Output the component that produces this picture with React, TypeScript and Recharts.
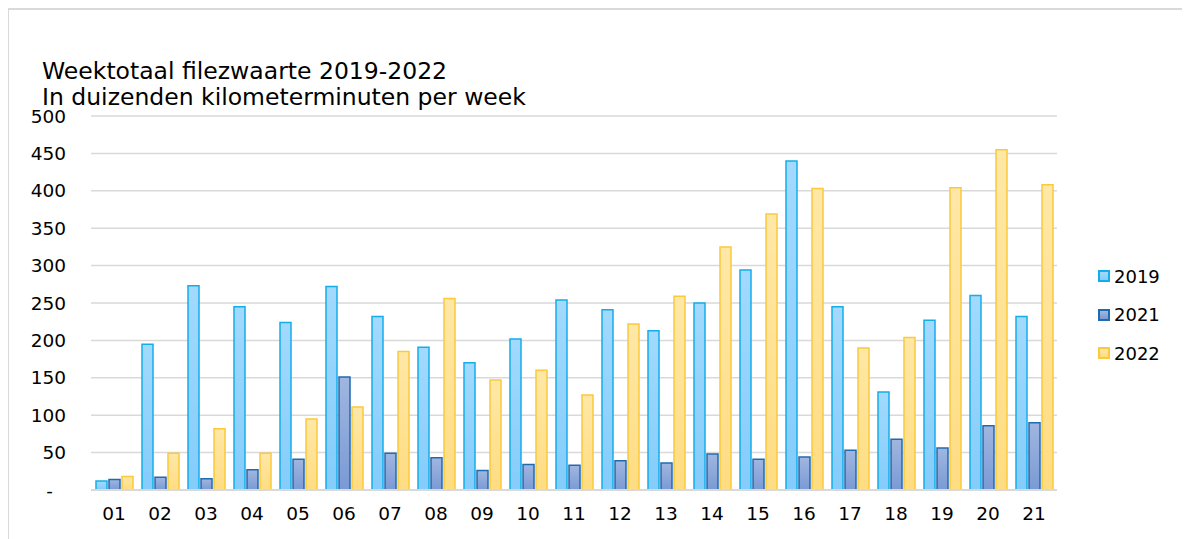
import React from 'react';
import { BarChart, Bar, XAxis, YAxis, CartesianGrid } from 'recharts';

const weeks = ['01', '02', '03', '04', '05', '06', '07', '08', '09', '10', '11', '12', '13', '14', '15', '16', '17', '18', '19', '20', '21'];
const values2019 = [12, 195, 273, 245, 224, 272, 232, 191, 170, 202, 254, 241, 213, 250, 294, 440, 245, 131, 227, 260, 232];
const values2021 = [14, 17, 15, 27, 41, 151, 49, 43, 26, 34, 33, 39, 36, 48, 41, 44, 53, 68, 56, 86, 90];
const values2022 = [18, 49, 82, 49, 95, 111, 185, 256, 147, 160, 127, 222, 259, 325, 369, 403, 190, 204, 404, 455, 408];
const yTicks = [0, 50, 100, 150, 200, 250, 300, 350, 400, 450, 500];

const series = [
  { key: 'y2019', name: '2019', stroke: '#13aeea', top: '#a3d9fd', bottom: '#84ccfb' },
  { key: 'y2021', name: '2021', stroke: '#1e6bb0', top: '#a0b6e0', bottom: '#7a9ad5' },
  { key: 'y2022', name: '2022', stroke: '#fbc93a', top: '#fee8a8', bottom: '#fedc82' },
];

const data = weeks.map((week, i) => ({
  week,
  y2019: values2019[i],
  y2021: values2021[i],
  y2022: values2022[i],
}));

const FONT = '"DejaVu Sans", Verdana, sans-serif';
const TICK_SIZE = 18.5;

const YTick = ({ x, y, payload }: any) => (
  <text
    x={payload.value === 0 ? x - 13 : x}
    y={y}
    dy="0.355em"
    textAnchor="end"
    fontSize={TICK_SIZE}
    fontFamily={FONT}
    fill="#000"
  >
    {payload.value === 0 ? '-' : payload.value}
  </text>
);

const App = () => {
  return (
    <div
      style={{
        position: 'relative',
        width: 1178,
        height: 540,
        borderTop: '2px solid #d9d9d9',
        borderLeft: '2px solid #d9d9d9',
        borderRight: '2px solid #d9d9d9',
        marginLeft: -1,
        fontFamily: FONT,
        background: '#fff',
      }}
    >
      <div
        style={{
          position: 'absolute',
          left: 33,
          top: 48,
          fontSize: 23.5,
          lineHeight: '26px',
          color: '#000',
          whiteSpace: 'nowrap',
        }}
      >
        <div>Weektotaal filezwaarte 2019-2022</div>
        <div>In duizenden kilometerminuten per week</div>
      </div>

      <BarChart
        width={1176}
        height={529}
        data={data}
        margin={{ top: 106, right: 128, bottom: 19, left: 22 }}
        barSize={11}
        barGap={2}
      >
        <defs>
          {series.map((s) => (
            <linearGradient key={s.key} id={`grad-${s.key}`} x1="0" y1="0" x2="0" y2="1">
              <stop offset="0%" stopColor={s.top} />
              <stop offset="100%" stopColor={s.bottom} />
            </linearGradient>
          ))}
        </defs>
        <CartesianGrid vertical={false} stroke="#d9d9d9" strokeWidth={1.5} />
        <XAxis
          dataKey="week"
          axisLine={{ stroke: '#d9d9d9', strokeWidth: 2 }}
          tickLine={false}
          tickSize={0}
          tickMargin={17}
          height={30}
          tick={{ fontSize: TICK_SIZE, fontFamily: FONT, fill: '#000' }}
        />
        <YAxis
          domain={[0, 500]}
          ticks={yTicks}
          width={60}
          axisLine={false}
          tickLine={false}
          tickSize={0}
          tickMargin={25}
          tick={<YTick />}
        />
        {series.map((s) => (
          <Bar
            key={s.key}
            dataKey={s.key}
            name={s.name}
            fill={`url(#grad-${s.key})`}
            stroke={s.stroke}
            strokeWidth={1.5}
            isAnimationActive={false}
          />
        ))}
      </BarChart>

      <div style={{ position: 'absolute', left: 1089, top: 247 }}>
        {series.map((s) => (
          <div key={s.key} style={{ display: 'flex', alignItems: 'center', height: 38.5 }}>
            <div
              style={{
                width: 8,
                height: 8,
                border: `2px solid ${s.stroke}`,
                background: `linear-gradient(${s.top}, ${s.bottom})`,
                marginRight: 4,
              }}
            />
            <span style={{ fontSize: 18, color: '#000' }}>{s.name}</span>
          </div>
        ))}
      </div>
    </div>
  );
};

export default App;
